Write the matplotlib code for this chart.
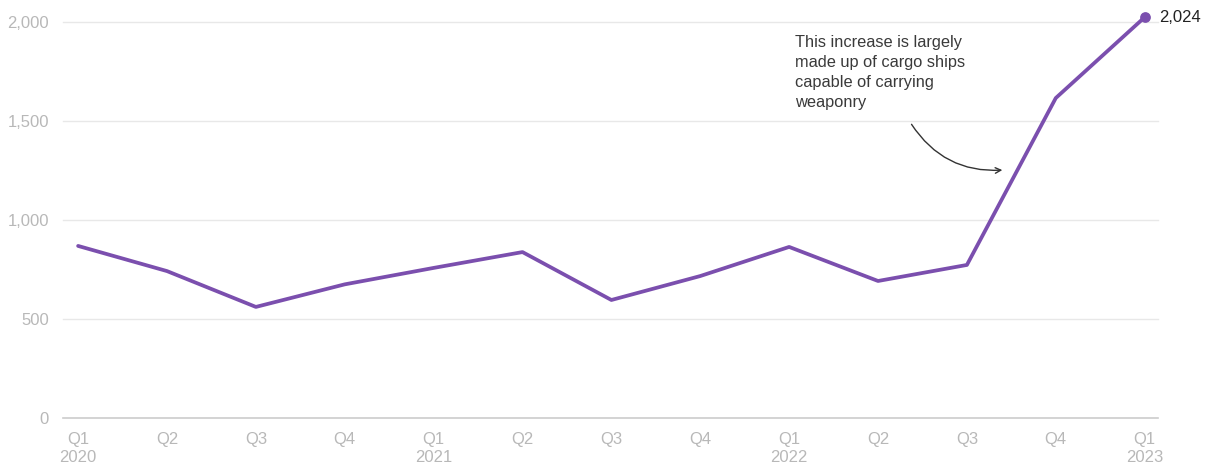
import matplotlib.pyplot as plt

plt.rcParams['font.family'] = ['Liberation Sans', 'DejaVu Sans']

# Quarterly counts, Q1 2020 - Q1 2023
quarters = ['Q1', 'Q2', 'Q3', 'Q4', 'Q1', 'Q2', 'Q3', 'Q4', 'Q1', 'Q2', 'Q3', 'Q4', 'Q1']
years = ['2020', '', '', '', '2021', '', '', '', '2022', '', '', '', '2023']
values = [869, 742, 561, 675, 758, 838, 596, 717, 864, 692, 773, 1616, 2024]
y_ticks = [0, 500, 1000, 1500, 2000]

purple = '#7b4fae'
grey = '#b8b8b8'

fig = plt.figure(figsize=(12.05, 4.65), dpi=100)
ax = fig.add_axes([63 / 1205, 1 - 418 / 465, (1158 - 63) / 1205, (418 - 22) / 465])

x = list(range(len(values)))
ax.plot(x, values, color=purple, lw=2.7, clip_on=False, solid_capstyle='round', zorder=3)
ax.scatter([x[-1]], [values[-1]], s=45, color=purple, clip_on=False, zorder=4)
ax.text(x[-1] + 0.16, values[-1], f'{values[-1]:,}', fontsize=12, color='#222222',
        va='center', ha='left')

ax.set_xlim(-0.17, 12.15)
ax.set_ylim(0, 2000)
ax.set_yticks(y_ticks)
ax.set_yticklabels([f'{v:,}' for v in y_ticks])
ax.set_xticks(x)
labels = ax.set_xticklabels([q + ('\n' + y if y else '') for q, y in zip(quarters, years)],
                            va='top')
for lb in labels:
    lb.set_linespacing(1.25)

for v in y_ticks:
    ax.axhline(v, color='#cccccc' if v == 0 else '#e8e8e8', lw=1.2 if v == 0 else 1,
               zorder=1, clip_on=False)

for s in ax.spines.values():
    s.set_visible(False)
ax.tick_params(axis='both', length=0, labelsize=12, colors=grey)
ax.tick_params(axis='y', pad=10)
ax.tick_params(axis='x', pad=10)

ax.annotate('This increase is largely\nmade up of cargo ships\ncapable of carrying\nweaponry',
            xy=(10.43, 1253), xytext=(8.07, 1935), fontsize=11.8, color='#3a3a3a',
            va='top', ha='left', linespacing=1.42)
ax.annotate('', xy=(10.43, 1253), xytext=(9.36, 1495),
            arrowprops=dict(arrowstyle='->', color='#333333', lw=1,
                            connectionstyle='arc3,rad=0.3'))

fig.savefig('out.png', dpi=100, facecolor='white')
